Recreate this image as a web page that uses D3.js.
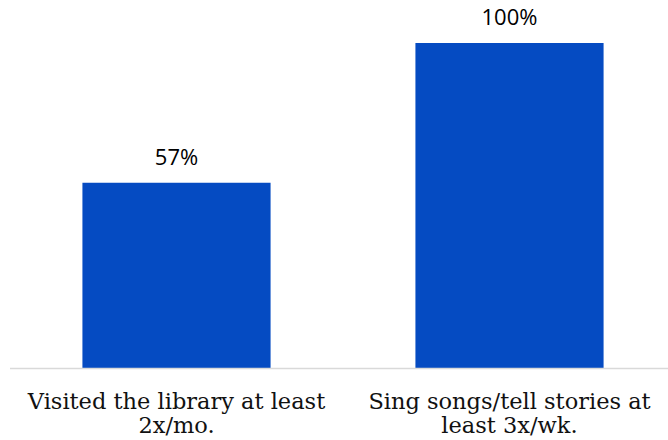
<!DOCTYPE html>
<html><head><meta charset="utf-8">
<script src="https://cdn.jsdelivr.net/npm/d3@7"></script>
<style>html,body{margin:0;padding:0;background:#fff;}svg{display:block;}</style>
</head><body>
<svg id="chart" width="668" height="440"></svg>
<script>
const categories = [["Visited the library at least","2x/mo."],["Sing songs/tell stories at","least 3x/wk."]];
const values = [0.57, 1.00];
const labels = ["57%","100%"];

const svg = d3.select("#chart");
const x = d3.scaleBand().domain(d3.range(categories.length)).range([10, 676]).paddingInner(0.435).paddingOuter(0.2175);
const y = d3.scaleLinear().domain([0, 1]).range([368, 43]);

svg.selectAll("rect.bar").data(values).join("rect")
  .attr("class","bar")
  .attr("x",(d,i)=>x(i)).attr("width",x.bandwidth())
  .attr("y",d=>y(d)).attr("height",d=>y(0)-y(d))
  .attr("fill","#054bc2");

svg.append("line").attr("x1",10).attr("x2",668).attr("y1",y(0)+0.5).attr("y2",y(0)+0.5)
  .attr("stroke","#d9d9d9").attr("stroke-width",1.5);

svg.selectAll("text.val").data(values).join("text")
  .attr("class","val")
  .attr("x",(d,i)=>x(i)+x.bandwidth()/2).attr("y",d=>y(d)-18)
  .attr("text-anchor","middle")
  .attr("font-family","'Open Sans', sans-serif").attr("font-size",22)
  .attr("fill","#000").text((d,i)=>labels[i]);

const cat = svg.selectAll("text.cat").data(categories).join("text")
  .attr("class","cat")
  .attr("text-anchor","middle")
  .attr("font-family","'DejaVu Serif', serif").attr("font-size",22.5)
  .attr("fill","#111");
cat.selectAll("tspan").data(d=>d).join("tspan")
  .attr("x",function(){const i=categories.indexOf(d3.select(this.parentNode).datum());return x(i)+x.bandwidth()/2;})
  .attr("y",(d,j)=>409+j*24)
  .text(d=>d);
</script>
</body></html>
